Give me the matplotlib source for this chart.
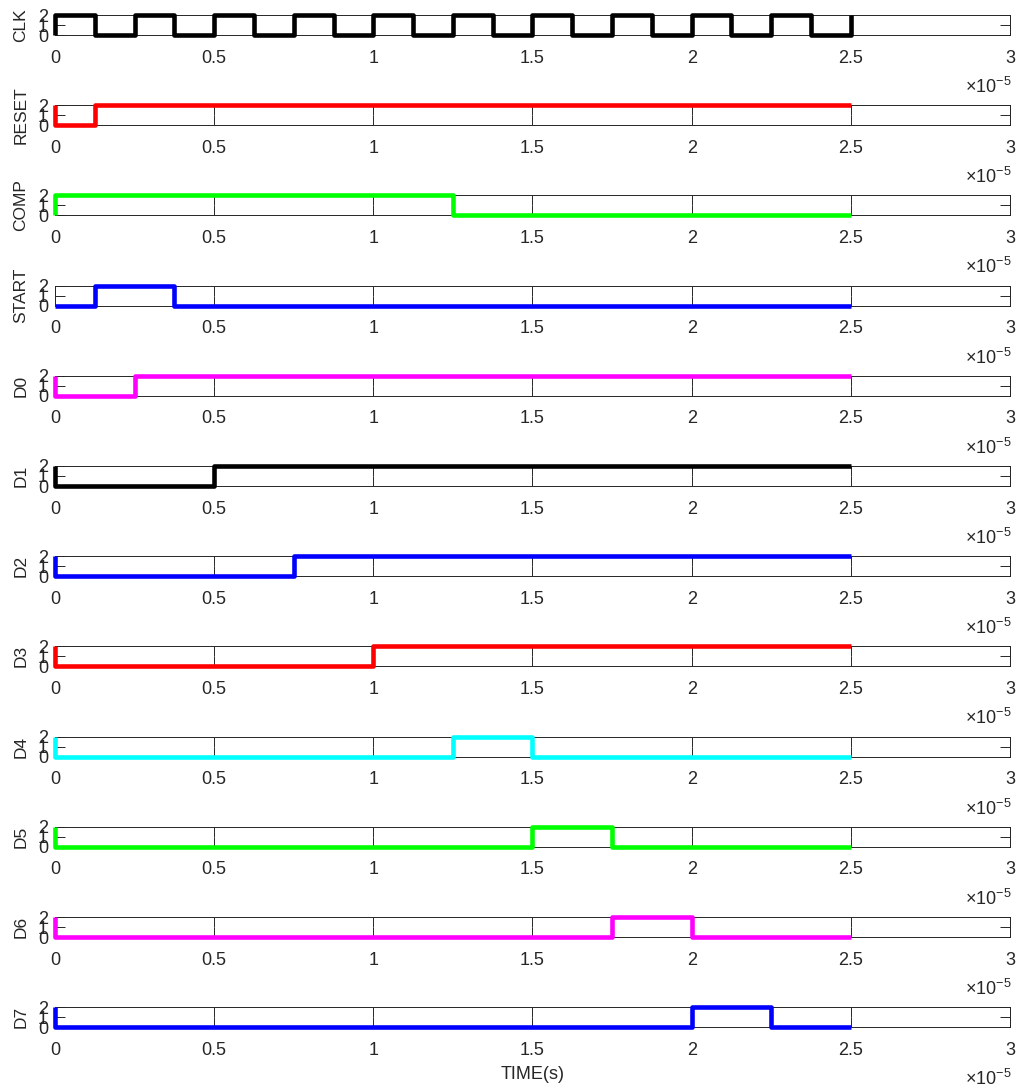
import numpy as np
import matplotlib
matplotlib.use("Agg")
import matplotlib.pyplot as plt
from matplotlib.ticker import FuncFormatter
from matplotlib.transforms import offset_copy

plt.rcParams['font.family'] = ['Liberation Sans', 'DejaVu Sans']
plt.rcParams['mathtext.fontset'] = 'custom'
plt.rcParams['mathtext.rm'] = 'Liberation Sans'
plt.rcParams['mathtext.it'] = 'Liberation Sans:italic'

# times in units of 1e-5 s, step levels (steps-post)
clk_t = [0.0] + [k * 0.125 for k in range(21)]
clk_v = [0] + [2 if k % 2 == 0 else 0 for k in range(21)]

reset_t = [0, 0, 0.125, 2.5]
reset_v = [2, 0, 2, 2]
comp_t = [0, 0, 1.25, 2.5]
comp_v = [0, 2, 0, 0]
start_t = [0, 0.125, 0.375, 2.5]
start_v = [0, 2, 0, 0]
d0_t = [0, 0, 0.25, 2.5]
d0_v = [2, 0, 2, 2]
d1_t = [0, 0, 0.5, 2.5]
d1_v = [2, 0, 2, 2]
d2_t = [0, 0, 0.75, 2.5]
d2_v = [2, 0, 2, 2]
d3_t = [0, 0, 1.0, 2.5]
d3_v = [2, 0, 2, 2]
d4_t = [0, 0, 1.25, 1.5, 2.5]
d4_v = [2, 0, 2, 0, 0]
d5_t = [0, 0, 1.5, 1.75, 2.5]
d5_v = [2, 0, 2, 0, 0]
d6_t = [0, 0, 1.75, 2.0, 2.5]
d6_v = [2, 0, 2, 0, 0]
d7_t = [0, 0, 2.0, 2.25, 2.5]
d7_v = [2, 0, 2, 0, 0]

names = ['CLK', 'RESET', 'COMP', 'START', 'D0', 'D1', 'D2', 'D3', 'D4', 'D5', 'D6', 'D7']
signals = [(clk_t, clk_v), (reset_t, reset_v), (comp_t, comp_v), (start_t, start_v),
           (d0_t, d0_v), (d1_t, d1_v), (d2_t, d2_v), (d3_t, d3_v),
           (d4_t, d4_v), (d5_t, d5_v), (d6_t, d6_v), (d7_t, d7_v)]
colors = ['black', 'red', '#00ff00', 'blue', 'magenta', 'black', 'blue', 'red',
          'cyan', '#00ff00', 'magenta', 'blue']
xticks = [0, 0.5, 1, 1.5, 2, 2.5, 3]

W, H = 1020, 1088
fig = plt.figure(figsize=(W / 100, H / 100), dpi=100)
txt = '#262626'

left, right = 55, 1010
for i, (name, (t, v), c) in enumerate(zip(names, signals, colors)):
    top = 15 + i * 90.2
    ax = fig.add_axes([left / W, 1 - (top + 20) / H, (right - left) / W, 20 / H])
    ax.plot(t, v, color=c, lw=3.3, drawstyle='steps-post', clip_on=False,
            solid_joinstyle='round', solid_capstyle='butt', zorder=3)
    ax.set_xlim(0, 3)
    ax.set_ylim(0, 2)
    ax.set_xticks(xticks)
    ax.set_yticks([0, 1, 2])
    ax.xaxis.set_major_formatter(FuncFormatter(lambda x, p: '%g' % x))
    ax.tick_params(direction='in', top=True, right=True, length=7.5, width=0.7,
                   labelsize=13, colors=txt)
    ax.tick_params(axis='x', pad=10.5)
    ax.tick_params(axis='y', pad=5)
    for s in ax.spines.values():
        s.set_linewidth(0.7)
        s.set_color(txt)
    ax.set_ylabel(name, fontsize=12.5, color=txt, labelpad=7)
    # exponent label under the right end of the x axis
    tr = offset_copy(ax.transAxes, fig=fig, x=2, y=-52, units='dots')
    ax.text(1, 0, r'$\times\mathregular{10^{-5}}$', transform=tr, ha='right', va='center',
            fontsize=13, color=txt)
    if i == len(names) - 1:
        ax.set_xlabel('TIME(s)', fontsize=13, color=txt, labelpad=5)

fig.savefig('out.png', dpi=100)
